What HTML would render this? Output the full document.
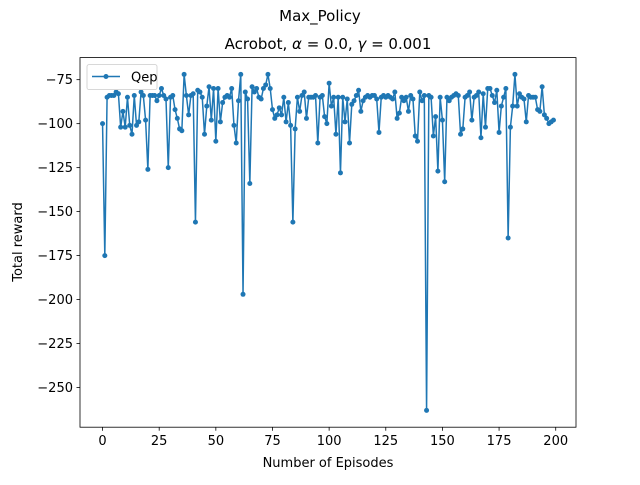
<!DOCTYPE html>
<html><head><meta charset="utf-8"><style>
body{margin:0;background:#fff;}
svg{font-family:"DejaVu Sans","Liberation Sans",sans-serif;}
</style></head><body>
<svg id="c" width="640" height="480" viewBox="0 0 640 480" xmlns="http://www.w3.org/2000/svg">
<rect width="640" height="480" fill="#fff"/>
<text x="320" y="21" text-anchor="middle" font-size="15">Max_Policy</text>
<text x="328" y="49" text-anchor="middle" font-size="15">Acrobot, <tspan font-style="italic">α</tspan> = 0.0, <tspan font-style="italic">γ</tspan> = 0.001</text>
<g id="ticks"></g>
<g id="plot"></g>
<rect x="80" y="57.6" width="496" height="369.6" fill="none" stroke="#000" stroke-width="0.8"/>
<text x="328" y="467" text-anchor="middle" font-size="13">Number of Episodes</text>
<text transform="translate(22,242) rotate(-90)" text-anchor="middle" font-size="13">Total reward</text>
<g>
<rect x="87" y="64.6" width="70" height="25" rx="2" fill="#fff" fill-opacity="0.8" stroke="#ccc" stroke-width="0.8"/>
<line x1="92" y1="76.5" x2="120" y2="76.5" stroke="#1f77b4" stroke-width="1.5"/>
<circle cx="106" cy="76.5" r="2.5" fill="#1f77b4"/>
<text x="131" y="81.5" font-size="13">Qep</text>
</g>
</svg>
<script>
const values = [
-100,-175,-85,-84,-84,-84,-82,-83,-102,-93,
-102,-85,-101,-106,-84,-101,-99,-82,-84,-98,
-126,-84,-84,-84,-87,-84,-80,-84,-86,-125,
-85,-84,-92,-97,-103,-104,-72,-84,-95,-84,
-83,-156,-81,-82,-85,-106,-90,-79,-98,-80,
-110,-80,-99,-88,-85,-84,-85,-80,-101,-111,
-87,-72,-197,-82,-86,-134,-79,-82,-80,-85,
-86,-80,-78,-72,-80,-92,-97,-95,-91,-95,
-85,-99,-88,-101,-156,-103,-85,-93,-84,-82,
-97,-85,-85,-85,-84,-111,-85,-84,-96,-100,
-77,-90,-85,-106,-85,-128,-85,-99,-86,-111,
-89,-87,-84,-81,-93,-87,-85,-84,-85,-84,
-84,-86,-105,-85,-84,-85,-84,-85,-86,-82,
-97,-94,-85,-87,-85,-93,-84,-86,-107,-110,
-82,-87,-84,-263,-84,-85,-107,-96,-127,-85,
-98,-133,-85,-87,-85,-84,-83,-84,-106,-103,
-85,-84,-82,-98,-85,-84,-82,-108,-83,-102,
-80,-80,-84,-88,-81,-105,-90,-85,-80,-165,
-102,-90,-72,-90,-83,-85,-86,-99,-84,-85,
-85,-85,-92,-93,-79,-95,-97,-100,-99,-98];
const xTicks = [0,25,50,75,100,125,150,175,200];
const yTicks = [-250,-225,-200,-175,-150,-125,-100,-75];
const NS="http://www.w3.org/2000/svg";
const L=80,R=576,T=57.6,B=427.2;
const n=values.length;
const xmin=-(n-1)*0.05, xmax=(n-1)*1.05;
const vmin=Math.min(...values), vmax=Math.max(...values), m=(vmax-vmin)*0.05;
const ylo=vmin-m, yhi=vmax+m;
function sx(v){return L+(v-xmin)/(xmax-xmin)*(R-L);}
function sy(v){return B-(v-ylo)/(yhi-ylo)*(B-T);}
const tk=document.getElementById('ticks');
xTicks.forEach(t=>{
 const l=document.createElementNS(NS,'line');
 l.setAttribute('x1',sx(t));l.setAttribute('x2',sx(t));l.setAttribute('y1',B);l.setAttribute('y2',B+3.5);l.setAttribute('stroke','#000');l.setAttribute('stroke-width','0.8');
 
 
 tk.appendChild(l);
 const s=document.createElementNS(NS,'text');
 s.setAttribute('x',sx(t));s.setAttribute('y',B+18);s.setAttribute('text-anchor','middle');s.setAttribute('font-size','13');
 s.textContent=t;
 
 
 tk.appendChild(s);
});
yTicks.forEach(t=>{
 const l=document.createElementNS(NS,'line');
 l.setAttribute('x1',L-3.5);l.setAttribute('x2',L);l.setAttribute('y1',sy(t));l.setAttribute('y2',sy(t));l.setAttribute('stroke','#000');l.setAttribute('stroke-width','0.8');
 
 
 tk.appendChild(l);
 const s=document.createElementNS(NS,'text');
 s.setAttribute('x',L-7);s.setAttribute('y',sy(t)+4.5);s.setAttribute('text-anchor','end');s.setAttribute('font-size','13');
 s.textContent='\u2212'+Math.abs(t);
 
 
 tk.appendChild(s);
});
const pg=document.getElementById('plot');
const p=document.createElementNS(NS,'path');
p.setAttribute('d',values.map((v,i)=>(i?'L':'M')+sx(i).toFixed(2)+' '+sy(v).toFixed(2)).join(''));
p.setAttribute('fill','none');p.setAttribute('stroke','#1f77b4');p.setAttribute('stroke-width','1.5');p.setAttribute('stroke-linejoin','round');


pg.appendChild(p);
values.forEach((v,i)=>{
 const c=document.createElementNS(NS,'circle');
 c.setAttribute('cx',sx(i));c.setAttribute('cy',sy(v));c.setAttribute('r','2.5');c.setAttribute('fill','#1f77b4');
 
 
 pg.appendChild(c);
});
</script>
</body></html>
